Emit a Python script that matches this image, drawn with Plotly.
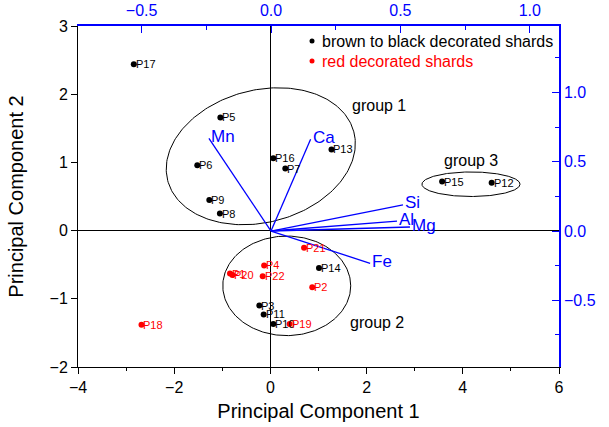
import numpy as np
import plotly.graph_objects as go

# ---- data ----
brown_names = ["P17", "P5", "P6", "P9", "P8", "P16", "P7", "P13", "P15", "P12",
               "P14", "P3", "P11", "P10"]
brown_pc1 = [-2.84, -1.04, -1.52, -1.27, -1.05, 0.06, 0.31, 1.27, 3.57, 4.60,
             1.01, -0.23, -0.14, 0.06]
brown_pc2 = [2.44, 1.66, 0.96, 0.45, 0.25, 1.06, 0.91, 1.19, 0.72, 0.70,
             -0.55, -1.10, -1.23, -1.37]

red_names = ["P21", "P4", "P1", "P20", "P22", "P2", "P19", "P18"]
red_pc1 = [0.70, -0.13, -0.84, -0.79, -0.16, 0.87, 0.40, -2.68]
red_pc2 = [-0.25, -0.51, -0.63, -0.65, -0.67, -0.83, -1.37, -1.38]

load_names = ["Mn", "Ca", "Si", "Al", "Mg", "Fe"]
load_x = [-0.240, 0.153, 0.510, 0.487, 0.537, 0.383]
load_y = [0.669, 0.662, 0.188, 0.072, 0.029, -0.233]

# group ellipses: center (PC1, PC2), semi-axes (in PC1 / PC2 units), screen rotation (deg)
group_names = ["group 1", "group 2", "group 3"]
group_cx = [-0.20, 0.34, 4.17]
group_cy = [1.09, -0.81, 0.68]
group_a = [2.00, 1.33, 1.02]
group_b = [0.97, 0.73, 0.18]
group_rot = [14.7, 0.0, 0.0]
group_label_x = [1.65, 1.61, 3.56]
group_label_y = [1.83, -1.35, 1.035]

legend_labels = ["brown to black decorated shards", "red decorated shards"]

# ---- layout constants ----
W, H = 609, 427
ML, MR, MT, MB = 78, 50, 26, 60
XR = [-4, 6]
YR = [-2, 3]
X2R = [-0.746, 1.113]
Y2R = [-0.981, 1.479]
FONT = "Liberation Sans, Arial, sans-serif"
BLUE = "#0000ff"
RED = "#ff0000"

sx = (W - ML - MR) / (XR[1] - XR[0])
sy = (H - MT - MB) / (YR[1] - YR[0])

fig = go.Figure()

# ellipses
t = np.linspace(0, 2 * np.pi, 241)
for cx, cy, a, b, rot in zip(group_cx, group_cy, group_a, group_b, group_rot):
    th = np.deg2rad(rot)
    u = a * sx * np.cos(t)
    v = b * sy * np.sin(t)
    px = u * np.cos(th) - v * np.sin(th)
    py = u * np.sin(th) + v * np.cos(th)
    fig.add_trace(go.Scatter(x=cx + px / sx, y=cy + py / sy, mode="lines",
                             line=dict(color="black", width=1),
                             hoverinfo="skip", showlegend=False))

# loadings
for nm, lx, ly in zip(load_names, load_x, load_y):
    fig.add_trace(go.Scatter(x=[0, lx], y=[0, ly], mode="lines",
                             line=dict(color=BLUE, width=1.3),
                             xaxis="x2", yaxis="y2", showlegend=False,
                             hoverinfo="skip"))
    fig.add_annotation(x=lx, y=ly, xref="x2", yref="y2", text=nm,
                       showarrow=False, xanchor="left", yanchor="middle",
                       yshift=2, font=dict(family=FONT, size=17, color=BLUE))

# scores
for names, xs, ys, col in [(brown_names, brown_pc1, brown_pc2, "black"),
                           (red_names, red_pc1, red_pc2, RED)]:
    fig.add_trace(go.Scatter(x=xs, y=ys, mode="markers",
                             marker=dict(color=col, size=6),
                             showlegend=False))
    for nm, px_, py_ in zip(names, xs, ys):
        fig.add_annotation(x=px_, y=py_, xref="x", yref="y", text=nm,
                           showarrow=False, xanchor="left", yanchor="middle",
                           xshift=1, borderpad=0,
                           font=dict(family=FONT, size=11, color=col))

# group labels
for nm, gx, gy in zip(group_names, group_label_x, group_label_y):
    fig.add_annotation(x=gx, y=gy, xref="x", yref="y", text=nm, showarrow=False,
                       xanchor="left", yanchor="middle",
                       font=dict(family=FONT, size=16, color="black"))

# legend (manual)
leg_colors = ["black", RED]
leg_y = [0.956, 0.897]
for lab, col, ly in zip(legend_labels, leg_colors, leg_y):
    fig.add_shape(type="circle", xref="paper", yref="paper",
                  x0=0.4865 - 2.5 / 481, x1=0.4865 + 2.5 / 481,
                  y0=ly - 2.5 / 341, y1=ly + 2.5 / 341,
                  fillcolor=col, line=dict(color=col, width=0))
    fig.add_annotation(x=0.503, y=ly, xref="paper", yref="paper", text=lab,
                       showarrow=False, xanchor="left", yanchor="middle",
                       font=dict(family=FONT, size=16, color=col))

axfont = dict(family=FONT, size=16, color="black")
bluefont = dict(family=FONT, size=16, color=BLUE)

fig.update_layout(
    width=W, height=H,
    margin=dict(l=ML, r=MR, t=MT, b=MB, autoexpand=False),
    paper_bgcolor="white", plot_bgcolor="white",
    font=dict(family=FONT),
    xaxis=dict(range=XR, dtick=2, tick0=-4, showgrid=False, automargin=False,
               zeroline=True, zerolinecolor="black", zerolinewidth=1,
               showline=True, linecolor="black", linewidth=1,
               ticks="outside", ticklen=6, tickcolor="black",
               minor=dict(ticks="outside", ticklen=3, dtick=1, tickcolor="black"),
               tickfont=axfont,
               title=dict(text="Principal Component 1",
                          font=dict(family=FONT, size=20, color="black"),
                          standoff=8)),
    yaxis=dict(range=YR, dtick=1, showgrid=False, automargin=False,
               zeroline=True, zerolinecolor="black", zerolinewidth=1,
               showline=True, linecolor="black", linewidth=1,
               ticks="outside", ticklen=6, tickcolor="black",
               tickfont=axfont,
               title=dict(text="Principal Component 2",
                          font=dict(family=FONT, size=20, color="black"),
                          standoff=20)),
    xaxis2=dict(range=X2R, overlaying="x", side="top", anchor="y",
                automargin=False,
                dtick=0.5, tick0=0, tickformat=".1f", showgrid=False,
                zeroline=False, showline=True, linecolor=BLUE, linewidth=1.5,
                ticks="inside", ticklen=7, tickcolor=BLUE,
                ticklabelstandoff=2,
                minor=dict(ticks="inside", ticklen=4, dtick=0.25, tick0=0,
                           tickcolor=BLUE),
                tickfont=bluefont),
    yaxis2=dict(range=Y2R, overlaying="y", side="right", anchor="x",
                automargin=False,
                dtick=0.5, tick0=0, tickformat=".1f", showgrid=False,
                zeroline=False, showline=True, linecolor=BLUE, linewidth=1.5,
                ticks="inside", ticklen=7, tickcolor=BLUE,
                minor=dict(ticks="inside", ticklen=4, dtick=0.25, tick0=0,
                           tickcolor=BLUE),
                tickfont=bluefont),
)

fig.write_html("out.html")
